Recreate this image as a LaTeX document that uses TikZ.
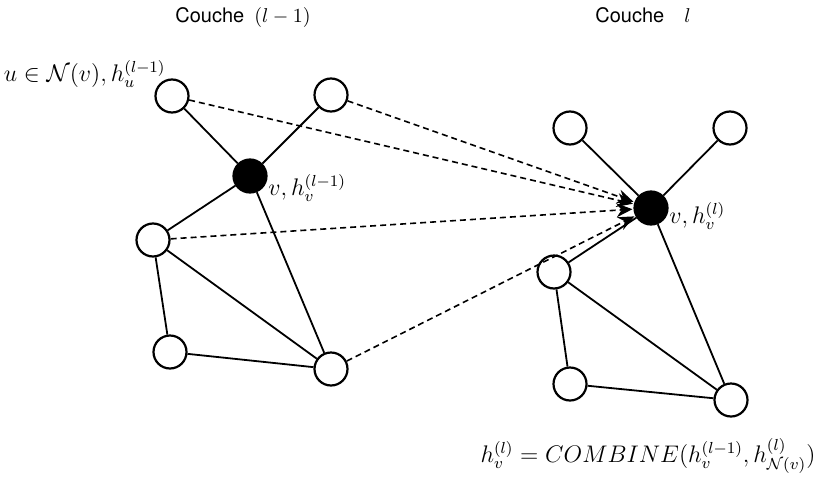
\documentclass[tikz,border=0pt]{standalone}
\usepackage{fontspec}
\newfontfamily\couchefont{TeX Gyre Heros}
\usepackage{tikz}
\usetikzlibrary{arrows.meta, positioning, backgrounds}
\tikzset{%
    wnodesty/.style={
        circle,
        draw,
        line width=1.1pt,
        fill=white,
        inner sep=0pt,
        minimum size=16.5pt,
    },
    bnodesty/.style={
        wnodesty,
        fill=black,
    },
    edgesty/.style={
        line width=0.9pt,
    },
    msgsty/.style={
        line width=0.8pt,
        dash pattern=on 3pt off 2pt,
        -{Stealth[length=8pt,width=7pt]},
        shorten >=0.5pt,
    },
    titlesty/.style={
        font=\couchefont,
        inner sep=0pt,
    },
    labsty/.style={
        font=\large,
        inner sep=0pt,
    },
}

\begin{document}
\begin{tikzpicture}[x=0.5pt,y=-0.5pt]
\useasboundingbox (0,0) rectangle (813,482);

% layer titles
\node (t1) [titlesty] at (243,17) {Couche\enspace$(l-1)$};
\node (t2) [titlesty] at (643,15) {Couche\quad$l$};

% layer l-1 nodes
\node (lu)  [wnodesty] at (172,96) {};
\node (lt)  [wnodesty] at (331,95) {};
\node (lv)  [bnodesty] at (250,176) {};
\node (la)  [wnodesty] at (153,240) {};
\node (lb)  [wnodesty] at (170,352) {};
\node (lc)  [wnodesty] at (331,369) {};

% layer l nodes
\node (ru)  [wnodesty] at (570,128) {};
\node (rt)  [wnodesty] at (730,128) {};
\node (rv)  [bnodesty] at (651,208) {};
\node (ra)  [wnodesty] at (554,272) {};
\node (rb)  [wnodesty] at (570,384) {};
\node (rc)  [wnodesty] at (731,400) {};

% edges
\begin{scope}[on background layer]
\draw [edgesty] (lu) -- (lv);
\draw [edgesty] (lt) -- (lv);
\draw [edgesty] (lv) -- (la);
\draw [edgesty] (lv) -- (lc);
\draw [edgesty] (la) -- (lb);
\draw [edgesty] (la) -- (lc);
\draw [edgesty] (lb) -- (lc);

\draw [edgesty] (ru) -- (rv);
\draw [edgesty] (rt) -- (rv);
\draw [edgesty] (rv) -- (ra);
\draw [edgesty] (rv) -- (rc);
\draw [edgesty] (ra) -- (rb);
\draw [edgesty] (ra) -- (rc);
\draw [edgesty] (rb) -- (rc);
\end{scope}

% messages
\draw [msgsty] (lu) -- (rv);
\draw [msgsty] (lt) -- (rv);
\draw [msgsty] (la) -- (rv);
\draw [msgsty] (lc) -- (rv);

% labels
\node (lul) [labsty,anchor=east] at (166,74) {$u\in\mathcal{N}(v), h_u^{(l-1)}$};
\node (lvl) [labsty,anchor=west] at (268,188) {$v, h_v^{(l-1)}$};
\node (rvl) [labsty,anchor=west] at (669,216) {$v, h_v^{(l)}$};
\node (eq)  [labsty] at (648,456)
     {$h_v^{(l)} = COMBINE(h_v^{(l-1)}, h_{\mathcal{N}(v)}^{(l)})$};

\end{tikzpicture}
\end{document}
